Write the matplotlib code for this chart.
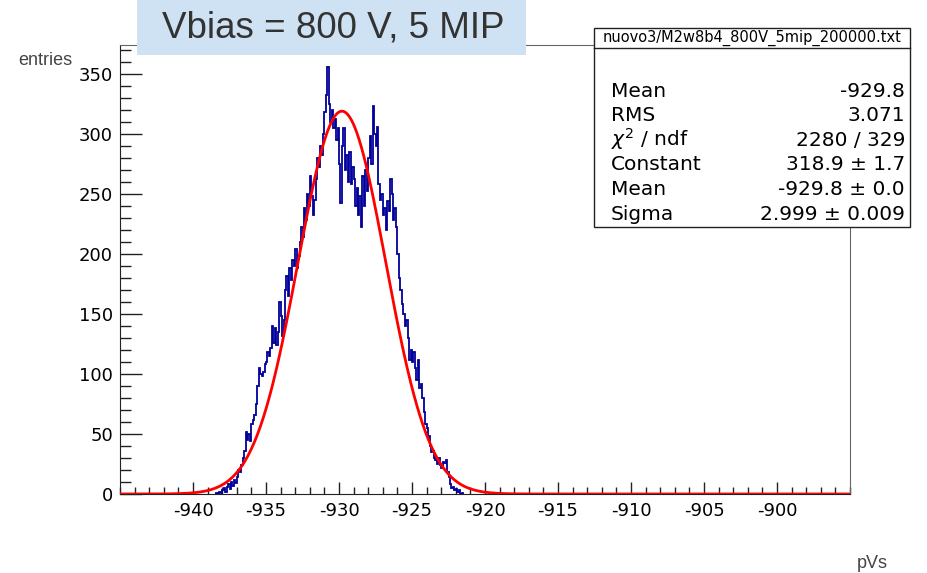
import numpy as np
import matplotlib.pyplot as plt
from matplotlib.patches import Rectangle
from matplotlib.lines import Line2D

plt.rcParams['axes.unicode_minus'] = False

# histogram contents (entries per bin), bins of 0.1 pVs starting at -938.5
x_start = -938.5
bin_width = 0.1
counts = [
    0, 1, 0, 2, 1,
    3, 5, 2, 6, 8, 4, 10, 7, 12, 9,
    14, 20, 18, 24, 30, 36, 52, 45, 50, 44,
    58, 62, 66, 75, 90, 105, 100, 98, 102, 108,
    110, 118, 115, 122, 140, 126, 138, 124, 135, 160,
    148, 132, 145, 170, 182, 165, 188, 178, 195, 190,
    204, 188, 198, 210, 222, 214, 238, 228, 250, 240,
    265, 248, 232, 245, 262, 280, 272, 290, 282, 300,
    318, 332, 356, 325, 310, 320, 305, 312, 295, 305,
    275, 242, 290, 305, 270, 282, 260, 285, 258, 272,
    262, 240, 255, 232, 248, 222, 265, 240, 270, 252,
    280, 298, 275, 323, 300, 290, 306, 258, 245, 250,
    232, 238, 220, 244, 236, 262, 250, 228, 238, 222,
    200, 180, 170, 158, 150, 140, 145, 130, 112, 120,
    110, 118, 105, 95, 112, 88, 92, 80, 68, 58,
    55, 48, 40, 35, 36, 30, 28, 25, 30, 24,
    22, 27, 26, 28, 18, 14, 8, 5, 6, 3,
    4, 2, 3, 0, 1,
]

# gaussian fit results
fit_const = 318.9
fit_mean = -929.8
fit_sigma = 2.999

stat_labels = ['Mean', 'RMS', r'$\chi^{2}$ / ndf', 'Constant', 'Mean', 'Sigma']
stat_values = ['-929.8', '3.071', '2280 / 329', '318.9 \u00b1 1.7',
               '-929.8 \u00b1 0.0', '2.999 \u00b1 0.009']
stat_title = 'nuovo3/M2w8b4_800V_5mip_200000.txt'

W, H = 928, 573
fig = plt.figure(figsize=(W / 100, H / 100), dpi=100)


def fx(px):
    return px / W


def fy(py):
    return 1 - py / H


ax = fig.add_axes([fx(120), fy(494), fx(850) - fx(120), fy(45) - fy(494)])

edges = x_start + bin_width * np.arange(len(counts) + 1)
ax.stairs(counts, edges, color='#000099', lw=1.3, zorder=2)

xf = np.linspace(-945, -895, 1000)
yf = fit_const * np.exp(-0.5 * ((xf - fit_mean) / fit_sigma) ** 2)
ax.plot(xf, yf, color='red', lw=2, zorder=3)

ax.set_xlim(-945, -895)
ax.set_ylim(0, 374)
ax.set_xticks(np.arange(-940, -899, 5))
ax.set_xticks(np.arange(-945, -894, 1), minor=True)
ax.set_yticks(np.arange(0, 351, 50))
ax.set_yticks(np.arange(0, 371, 10), minor=True)
ax.tick_params(which='both', direction='in', top=False, right=False,
               labelsize=13, width=1, color='#222222')
ax.tick_params(axis='x', which='major', length=9, pad=6)
ax.tick_params(axis='x', which='minor', length=4.7)
ax.tick_params(axis='y', which='major', length=16, pad=5)
ax.tick_params(axis='y', which='minor', length=8)
for lab in ax.get_xticklabels() + ax.get_yticklabels():
    lab.set_family('DejaVu Sans')
for s in ['left', 'bottom']:
    ax.spines[s].set_color('#222222')
for s in ['top', 'right']:
    ax.spines[s].set_color('#666666')

# stats box
fig.add_artist(Rectangle((fx(594), fy(227)), fx(910) - fx(594), fy(28) - fy(227),
                         transform=fig.transFigure, fc='white', ec='#222222', lw=1))
fig.add_artist(Line2D([fx(594), fx(910)], [fy(48), fy(48)],
                      transform=fig.transFigure, color='#222222', lw=1))
fig.text(fx(752), fy(42), stat_title, ha='center', va='baseline',
         fontsize=10.5, family='DejaVu Sans')
rows = [96.5, 121, 145.5, 170.5, 195, 219.5]
for lab, val, yb in zip(stat_labels, stat_values, rows):
    fig.text(fx(611), fy(yb), lab, ha='left', va='baseline', fontsize=14.5,
             family='DejaVu Sans')
    fig.text(fx(905), fy(yb), val, ha='right', va='baseline', fontsize=14.5,
             family='DejaVu Sans')

# title banner
fig.add_artist(Rectangle((fx(137), fy(55)), fx(526) - fx(137), fy(0) - fy(55),
                         transform=fig.transFigure, fc='#cfe2f3', ec='none'))
fig.text(fx(333), fy(37), 'Vbias = 800 V, 5 MIP', ha='center', va='baseline',
         fontsize=26.5, family='Liberation Sans', color='#333333')

fig.text(fx(18), fy(65), 'entries', ha='left', va='baseline', fontsize=13,
         family='Liberation Sans', color='#444444')
fig.text(fx(857), fy(568), 'pVs', ha='left', va='baseline', fontsize=13,
         family='Liberation Sans', color='#444444')

fig.savefig('out.png', dpi=100)
